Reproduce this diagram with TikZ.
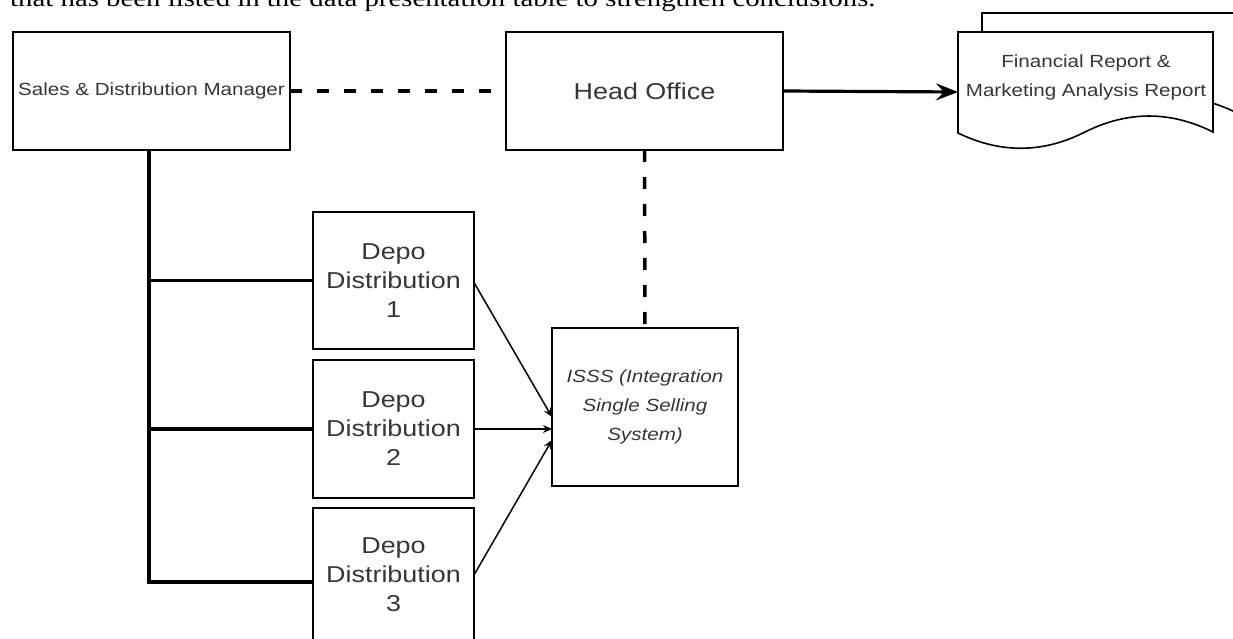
\documentclass[tikz,border=0pt]{standalone}
\usepackage{fontspec}
\usepackage{graphicx}
\setmainfont{Liberation Serif}
\newfontfamily\diafont{Liberation Sans}
\usetikzlibrary{arrows.meta}
\newcommand{\hs}[1]{\scalebox{1.17}[1]{#1}}
\definecolor{txtgray}{RGB}{55,55,55}
\tikzset{
  box/.style={draw=black, line width=1.6pt, fill=white, inner sep=0pt, outer sep=0pt, align=center, text=txtgray},
  smallfont/.style={font=\diafont\fontsize{17.6}{29}\selectfont},
  bigfont/.style={font=\diafont\fontsize{23}{29}\selectfont},
  trunkline/.style={line width=3.2pt, black},
  dashline/.style={line width=3.5pt, black, dash pattern=on 12pt off 15pt},
  thinarrow/.style={line width=1.5pt, black, -{Stealth[open, length=9pt, width=8pt]}},
  bigarrow/.style={line width=3.2pt, black, -{Stealth[length=22pt, width=17pt, inset=8pt]}},
  sheet/.style={draw=black, line width=1.6pt, fill=white}
}
\begin{document}
\begin{tikzpicture}[x=1pt, y=-1pt]
\useasboundingbox (0,0) rectangle (1233,639);

% cropped text line at the top (cut off in the reference as well)
\node[anchor=base west, inner sep=0pt, font=\fontsize{24}{28}\selectfont, text=black] (toptext) at (10,7) {\scalebox{1.2}[1]{that has been listed in the data presentation table to strengthen conclusions.}};

% boxes
\node[box, smallfont, minimum width=277pt, minimum height=118pt] (sdm) at (151.5,91) {\hs{Sales \& Distribution Manager}};
\node[box, bigfont, minimum width=277pt, minimum height=118pt] (ho) at (644.5,91) {\hs{Head Office}};
\node[box, bigfont, minimum width=161pt, minimum height=137pt] (d1) at (393.5,280.5) {\hs{Depo}\\\hs{Distribution}\\\hs{1}};
\node[box, bigfont, minimum width=161pt, minimum height=138pt] (d2) at (393.5,429) {\hs{Depo}\\\hs{Distribution}\\\hs{2}};
\node[box, bigfont, minimum width=161pt, minimum height=134pt] (d3) at (393.5,575) {\hs{Depo}\\\hs{Distribution}\\\hs{3}};
\node[box, smallfont, minimum width=186pt, minimum height=158pt] (isss) at (645,407) {\hs{\itshape ISSS (Integration}\\\hs{\itshape Single Selling}\\\hs{\itshape System)}};

% multi-document shape
\path[sheet] (982,13) -- (1240,13) -- (1237,113)
  .. controls (1194.3,91.7) and (1151.7,91.7) .. (1109,113)
  .. controls (1067,134.3) and (1024.7,134.3) .. (982,113) -- cycle;
\path[sheet] (958,32) -- (1213,32) -- (1213,132)
  .. controls (1170.3,110.7) and (1127.7,110.7) .. (1085,132)
  .. controls (1043,153.3) and (1000.7,153.7) .. (958,133) -- cycle;
\node[inner sep=0pt, outer sep=0pt, minimum width=255pt, minimum height=120pt] (report) at (1085.5,92) {};
\node[smallfont, text=txtgray, align=center, inner sep=0pt] (reporttext) at (1086,77) {\hs{Financial Report \&}\\\hs{Marketing Analysis Report}};

% connectors
\coordinate (trunk) at (149,582);
\draw[trunkline] (sdm.south -| trunk) -- (trunk) -- (d3.west |- trunk);
\draw[trunkline] (d1.west) -- (d1.west -| trunk);
\draw[trunkline] (d2.west) -- (d2.west -| trunk);

\draw[dashline] (sdm.east) -- (ho.west);
\draw[dashline] (ho.south) -- (isss.north);
\draw[bigarrow] (ho.east) -- (report.west);

\draw[thinarrow] ([yshift=-2pt]d1.east) -- ([yshift=-10pt]isss.west);
\draw[thinarrow] (d2.east) -- ([yshift=-22pt]isss.west);
\draw[thinarrow] (d3.east) -- ([yshift=-33pt]isss.west);
\end{tikzpicture}
\end{document}
